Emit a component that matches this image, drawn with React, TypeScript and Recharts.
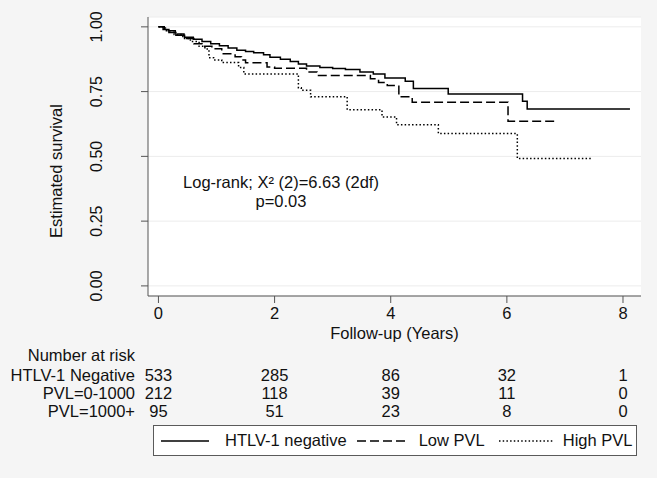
import { ComposedChart, Line, XAxis, YAxis, CartesianGrid, Legend } from 'recharts'

// Kaplan-Meier estimates (years, survival)
const negYears = [0, 0.08, 0.18, 0.3, 0.45, 0.6, 0.75, 0.9, 1.05, 1.2, 1.35, 1.5, 1.64, 1.81, 1.92, 2.1, 2.27, 2.41, 2.55, 2.78, 3.0, 3.22, 3.47, 3.7, 3.9, 4.25, 4.39, 4.99, 6.27, 6.35, 8.12]
const negSurv = [1.0, 0.99, 0.978, 0.968, 0.96, 0.952, 0.943, 0.935, 0.927, 0.918, 0.91, 0.905, 0.9, 0.892, 0.883, 0.875, 0.866, 0.857, 0.849, 0.843, 0.839, 0.835, 0.826, 0.818, 0.803, 0.79, 0.762, 0.741, 0.713, 0.683, 0.683]

const lowYears = [0, 0.1, 0.29, 0.44, 0.61, 0.75, 0.92, 1.09, 1.32, 1.43, 1.5, 1.87, 2.0, 2.55, 2.73, 3.65, 3.79, 3.94, 4.14, 4.37, 6.02, 6.88]
const lowSurv = [1.0, 0.985, 0.972, 0.955, 0.935, 0.925, 0.915, 0.896, 0.885, 0.872, 0.861, 0.845, 0.84, 0.826, 0.812, 0.8, 0.785, 0.774, 0.73, 0.709, 0.636, 0.636]

const highYears = [0, 0.12, 0.27, 0.42, 0.55, 0.7, 0.8, 0.87, 0.95, 1.09, 1.38, 1.47, 2.41, 2.46, 2.62, 3.25, 3.85, 4.1, 4.82, 6.18, 7.47]
const highSurv = [1.0, 0.985, 0.97, 0.955, 0.943, 0.925, 0.914, 0.881, 0.872, 0.862, 0.843, 0.818, 0.765, 0.755, 0.73, 0.68, 0.652, 0.622, 0.588, 0.492, 0.492]

const yearTicks = [0, 2, 4, 6, 8]
const survTicks = [0, 0.25, 0.5, 0.75, 1]

// number at risk at each year tick
const riskNegative = [533, 285, 86, 32, 1]
const riskLow = [212, 118, 39, 11, 0]
const riskHigh = [95, 51, 23, 8, 0]

const seriesNames = ['HTLV-1 negative', 'Low PVL', 'High PVL']
const rowLabels = ['HTLV-1 Negative', 'PVL=0-1000', 'PVL=1000+']

const zip = (xs: number[], ys: number[]) => xs.map((t, i) => ({ t, s: ys[i] }))

const FONT = '"Liberation Sans", Arial, sans-serif'
const xDomain = [-0.18, 8.31]
const dashes: Record<string, string> = {
  'HTLV-1 negative': '',
  'Low PVL': '9 4',
  'High PVL': '1.5 2.2',
}
const riskRows = [riskNegative, riskLow, riskHigh]
const ROW_TOP = 374.5
const ROW_STEP = 18.3

function T({ x, y, anchor = 'middle', rotate = false, size = 16.5, children }: any) {
  return (
    <text
      x={x}
      y={y}
      transform={rotate ? `rotate(-90 ${x} ${y})` : undefined}
      textAnchor={anchor}
      dominantBaseline="central"
      fontSize={size}
      fill="#111"
    >
      {children}
    </text>
  )
}

function YTick({ x, y, payload }: any) {
  return (
    <T x={x - 44} y={y} rotate size={16}>
      {Number(payload.value).toFixed(2)}
    </T>
  )
}

// year label plus the at-risk counts stacked under it
function XTick({ x, y, payload }: any) {
  const idx = yearTicks.indexOf(payload.value)
  return (
    <g>
      <T x={x} y={y + 10}>{payload.value}</T>
      {riskRows.map((counts, r) => (
        <T key={r} x={x} y={ROW_TOP + r * ROW_STEP}>
          {counts[idx]}
        </T>
      ))}
    </g>
  )
}

const legendLine = [48, 51, 55]
const legendGapBefore = [0, 10, 14]
const legendGapAfter = [16, 11, 9]

function LegendBox({ payload }: any) {
  const items = [...(payload ?? [])].sort((a: any, b: any) => seriesNames.indexOf(a.value) - seriesNames.indexOf(b.value))
  return (
    <div
      style={{
        boxSizing: 'border-box',
        width: 484,
        height: 31,
        border: '1px solid #5a5a5a',
        background: '#fff',
        display: 'flex',
        alignItems: 'center',
        paddingLeft: 7,
        fontFamily: FONT,
        fontSize: 16.5,
        color: '#111',
        whiteSpace: 'nowrap',
        overflow: 'hidden',
      }}
    >
      {items.map((entry: any, i: number) => (
        <div key={entry.value} style={{ display: 'flex', alignItems: 'center', marginLeft: legendGapBefore[i] }}>
          <svg width={legendLine[i]} height={6} style={{ marginRight: legendGapAfter[i] }}>
            <line x1={0} y1={3} x2={legendLine[i]} y2={3} stroke="#000" strokeWidth={1.5} strokeDasharray={dashes[entry.value] || undefined} />
          </svg>
          <span>{entry.value}</span>
        </div>
      ))}
    </div>
  )
}

export default function App() {
  const series = [zip(negYears, negSurv), zip(lowYears, lowSurv), zip(highYears, highSurv)]

  return (
    <div style={{ position: 'absolute', left: 0, top: 0, width: 657, height: 478, background: '#f5f5f5', fontFamily: FONT }}>
      <ComposedChart width={657} height={478} margin={{ top: 17, right: 16, left: 0, bottom: 140 }} style={{ fontFamily: FONT }}>
        <CartesianGrid xAxisId="t" vertical={false} stroke="#ececec" fill="#fff" />
        <XAxis
          xAxisId="t"
          type="number"
          dataKey="t"
          domain={xDomain}
          ticks={yearTicks}
          interval={0}
          allowDataOverflow
          height={42}
          tickSize={7}
          tickMargin={0}
          stroke="#555"
          tick={<XTick />}
          label={({ viewBox }: any) => (
            <T x={viewBox.x + viewBox.width / 2} y={viewBox.y + 37}>
              Follow-up (Years)
            </T>
          )}
        />
        <YAxis
          type="number"
          domain={[-0.039, 1.038]}
          ticks={survTicks}
          interval={0}
          allowDataOverflow
          width={148}
          tickSize={7}
          tickMargin={0}
          stroke="#555"
          tick={<YTick />}
          label={() => (
            <T x={56} y={171} rotate>
              Estimated survival
            </T>
          )}
        />
        {series.map((data, i) => (
          <Line
            key={seriesNames[i]}
            xAxisId="t"
            data={data}
            dataKey="s"
            name={seriesNames[i]}
            type="stepAfter"
            stroke="#000"
            strokeWidth={1.5}
            strokeDasharray={dashes[seriesNames[i]] || undefined}
            dot={false}
            activeDot={false}
            isAnimationActive={false}
          />
        ))}
        <Legend
          layout="horizontal"
          verticalAlign="middle"
          align="center"
          wrapperStyle={{ position: 'absolute', left: 153, top: 425, width: 484, height: 31 }}
          content={<LegendBox />}
        />
        <T x={281} y={182}>Log-rank; X² (2)=6.63 (2df)</T>
        <T x={281} y={201}>p=0.03</T>
        <T x={135} y={355} anchor="end">Number at risk</T>
        {rowLabels.map((label, i) => (
          <T key={label} x={135} y={ROW_TOP + i * ROW_STEP} anchor="end">
            {label}
          </T>
        ))}
      </ComposedChart>
    </div>
  )
}
